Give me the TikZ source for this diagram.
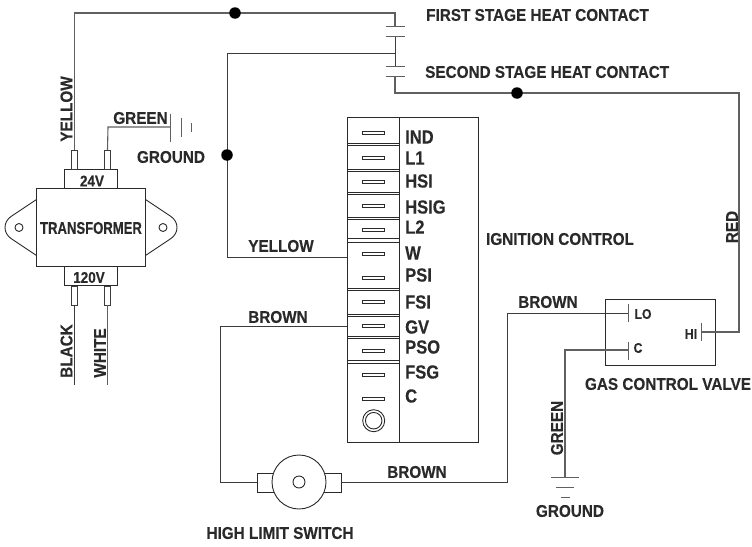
\documentclass[tikz,border=0pt]{standalone}
\usepackage{fontspec}
\newfontfamily\lf[FakeStretch=0.9,BoldFeatures={FakeBold=0.25}]{Liberation Sans}
\newfontfamily\nf[FakeStretch=0.77,BoldFeatures={FakeBold=0.25}]{Liberation Sans}
\newfontfamily\mf[FakeStretch=0.87,BoldFeatures={FakeBold=0.25}]{Liberation Sans}
\setmainfont{Liberation Sans}
\definecolor{ink}{HTML}{2A2A2A}
\definecolor{wire}{HTML}{3C3C3C}
\definecolor{wiregray}{HTML}{606060}
\tikzset{
  lab/.style={font=\lf\bfseries\fontsize{17}{17}\selectfont,text=ink,inner sep=0pt},
  tlab/.style={font=\nf\bfseries\fontsize{17}{17}\selectfont,text=ink,inner sep=0pt},
  termlab/.style={font=\mf\bfseries\fontsize{19}{19}\selectfont,text=ink,inner sep=0pt,anchor=west},
  vlab/.style={font=\mf\bfseries\fontsize{15.5}{16}\selectfont,text=ink,inner sep=0pt},
  tiny/.style={font=\mf\bfseries\fontsize{14}{14}\selectfont,text=ink,inner sep=0pt},
  rightlab/.style={lab,anchor=west},
  boxn/.style={draw=ink,line width=0.9pt,fill=white,inner sep=0pt,outer sep=0pt},
  pinbox/.style={draw=wire,line width=0.9pt,fill=white,inner sep=0pt,outer sep=0pt,minimum width=5.5pt,minimum height=19pt},
  slot/.style={draw=ink,line width=0.8pt,fill=white,inner sep=0pt,outer sep=0pt,minimum width=22pt,minimum height=3.5pt},
  dot/.style={circle,fill=black,inner sep=0pt,minimum size=11.5pt},
  wr/.style={draw=wire,line width=0.9pt},
  wg/.style={draw=wiregray,line width=1.1pt},
  barl/.style={draw=wiregray,line width=1pt},
}
\begin{document}
\begin{tikzpicture}[x=1pt,y=-1pt]
\useasboundingbox (0,0) rectangle (752,546);

% named points
\coordinate (tl) at (74.5,13);
\coordinate (tr) at (395,13);
\coordinate (c1a) at (395,26);
\coordinate (c1b) at (395,36);
\coordinate (c2a) at (395,66);
\coordinate (c2b) at (395,76);
\coordinate (jn) at (395,53);
\coordinate (yl) at (227,53);
\coordinate (yb) at (227,257);
\coordinate (br) at (395,93);
\coordinate (rr) at (739,93);
\coordinate (rb) at (739,332);
\coordinate (hib) at (701,332);
\coordinate (gnd1) at (170,127);
\coordinate (gcor) at (108,127);

% transformer ears
\draw[ink,line width=0.9pt] (36.5,199.5) -- (11,216.5) .. controls (3,222) and (3,233) .. (11,238.5) -- (36.5,255.5);
\draw[ink,line width=0.9pt] (145.5,199.5) -- (171,216.5) .. controls (179,222) and (179,233) .. (171,238.5) -- (145.5,255.5);
\node[circle,boxn,minimum size=8pt] (holeL) at (19,227.5) {};
\node[circle,boxn,minimum size=8pt] (holeR) at (163,227.5) {};
% transformer body
\node[boxn,minimum width=109pt,minimum height=78pt] (tbody) at (91,227) {};
\node[boxn,minimum width=53pt,minimum height=19pt] (ttop) at (91,178.5) {};
\node[boxn,minimum width=53pt,minimum height=19.5pt] (tbot) at (91,276) {};
\node[pinbox] (p1) at (74.5,159.5) {};
\node[pinbox] (p2) at (107.5,159.5) {};
\node[pinbox] (p3) at (74.5,295.5) {};
\node[pinbox] (p4) at (107.5,295.5) {};
\node[vlab] at (92,181) {24V};
\node[vlab] at (89,277.5) {120V};
\node[tlab] at (91,228) {TRANSFORMER};

% end coordinates of mains leads
\coordinate (blk) at (74.5,385);
\coordinate (wht) at (107.5,385);
\draw[wr] (p3.south) -- (blk);
\draw[wg] (p4.south) -- (wht);

% low voltage wiring
\draw[wg] (p1.north) -- (tl) -- (tr) -- (c1a);
\draw[wg] (p2.north) -- (gcor) -- (gnd1);
\draw[wr] (c1b) -- (c2a);
\draw[wr] (jn) -- (yl) -- (yb);
\draw[wg] (c2b) -- (br) -- (rr) -- (rb) -- (hib);
\node[dot] (d1) at (235,13) {};
\node[dot] (d2) at (227,155) {};
\node[dot] (d3) at (517,93) {};

% contact bars
\coordinate (b1l) at (386,26); \coordinate (b1r) at (405,26);
\coordinate (b2l) at (386,36); \coordinate (b2r) at (405,36);
\coordinate (b3l) at (386,66); \coordinate (b3r) at (405,66);
\coordinate (b4l) at (386,76); \coordinate (b4r) at (405,76);
\draw[barl] (b1l) -- (b1r) (b2l) -- (b2r) (b3l) -- (b3r) (b4l) -- (b4r);

% ground at transformer
\draw[barl] (170,113.5) -- (170,141.5) (181,118) -- (181,136.5) (191,123) -- (191,132);

% ignition control
\node[boxn,minimum width=131pt,minimum height=325pt] (ign) at (412.5,279.5) {};
\draw[ink,line width=0.9pt] (399,117) -- (399,442);
\foreach \ya/\yb in {143.7/145.5,169.3/171,192/194,217.5/219.3,238.5/242,288.5/290.5,314.5/316.3,336/338,360/363}{
  \draw[ink,line width=0.7pt] (347,\ya) -- (399,\ya) (347,\yb) -- (399,\yb);
}
\foreach \y [count=\i] in {133,158,181.7,206,230,254,278,302,326,351,375,399}{
  \node[slot] (s\i) at (373,\y) {};
}
\node[circle,boxn,minimum size=22pt] (knobo) at (373.7,420.7) {};
\node[circle,boxn,minimum size=16.5pt] (knobi) at (373.7,420.7) {};
\foreach \t/\y in {IND/137,L1/158,HSI/181,HSIG/207,L2/227,W/253,PSI/275,FSI/302,GV/327,PSO/347,FSG/372,C/396}{
  \node[termlab] at (405,\y) {\t};
}
\coordinate (ignY) at (347,257);
\coordinate (ignB) at (347,326);
\draw[wr] (yb) -- (ignY);

% high limit switch
\node[boxn,minimum width=84pt,minimum height=19pt] (hlsTab) at (299,482.5) {};
\node[circle,boxn,minimum size=54pt] (hls) at (299,482) {};
\node[circle,boxn,minimum size=12pt] (hlsh) at (299,482) {};
\coordinate (bl) at (220,326);
\coordinate (bb) at (220,482);
\draw[wr] (ignB) -- (bl) -- (bb) -- (hlsTab.west |- bb);
\coordinate (bv) at (507,482);
\coordinate (bv2) at (507,313);
\draw[wr] (hlsTab.east |- bb) -- (bv) -- (bv2);

% gas valve
\node[boxn,minimum width=110pt,minimum height=66pt] (valve) at (660,332) {};
\coordinate (lo) at (628,313);
\coordinate (cc) at (628,350);
\coordinate (gc) at (565,350);
\coordinate (gg) at (565,477);
\draw[wr] (bv2) -- (lo);
\draw[wg] (cc) -- (gc) -- (gg);
\draw[wg] (rb) -- (hib);
\draw[barl] (628,304) -- (628,322) (628,342) -- (628,360) (701,323) -- (701,341);
\draw[barl] (551,477) -- (579,477) (556,487) -- (574,487) (560.5,497) -- (569.5,497);

% labels
\node[rightlab] at (426,15) {FIRST STAGE HEAT CONTACT};
\node[rightlab] at (425,72) {SECOND STAGE HEAT CONTACT};
\node[lab,rotate=90] at (66.5,109) {YELLOW};
\node[lab] at (140.5,118) {GREEN};
\node[lab] at (171,157) {GROUND};
\node[lab,rotate=90] at (66.5,351) {BLACK};
\node[lab,rotate=90] at (100,353) {WHITE};
\node[lab] at (281,246) {YELLOW};
\node[lab] at (278,317) {BROWN};
\node[lab] at (417,472) {BROWN};
\node[lab] at (548,302) {BROWN};
\node[lab] at (560,239) {IGNITION CONTROL};
\node[lab,rotate=90] at (732,227) {RED};
\node[lab] at (668,384) {GAS CONTROL VALVE};
\node[lab] at (280,533) {HIGH LIMIT SWITCH};
\node[lab,rotate=90] at (557,428) {GREEN};
\node[lab] at (570,511) {GROUND};
\node[tiny] at (643,314) {LO};
\node[tiny] at (638,348) {C};
\node[tiny] at (691,334) {HI};
\end{tikzpicture}
\end{document}
